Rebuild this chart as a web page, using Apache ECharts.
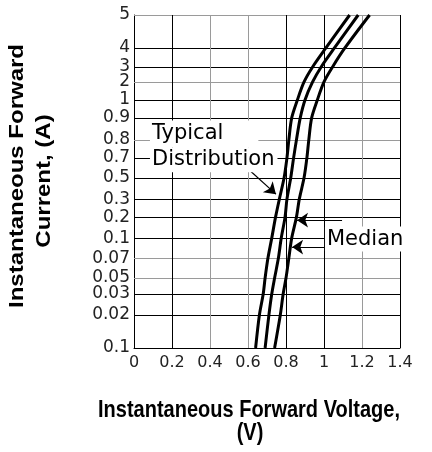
<!DOCTYPE html>
<html><head><meta charset="utf-8">
<script src="https://cdn.jsdelivr.net/npm/echarts@6/dist/echarts.min.js"></script>
<style>html,body{margin:0;padding:0;background:#fff}#c{width:432px;height:452px}</style>
</head><body><div id="c"></div>
<script>
// Current ticks (A) from bottom to top, with labels exactly as printed
const currentTicks = [0.01,0.02,0.03,0.05,0.07,0.1,0.2,0.3,0.5,0.7,0.8,0.9,1,2,3,4,5];
const currentTickLabels = ["0.1","0.02","0.03","0.05","0.07","0.1","0.2","0.3","0.5","0.7","0.8","0.9","1","2","3","4","5"];
// The chart's own (hand-drawn) vertical scale: axis position (0-100) of each current tick
const currentScale = [0,9.9,16.2,21.0,27.0,33.0,39.3,44.7,51.1,57.1,62.5,69.1,74.5,79.9,84.4,90.1,100];
const voltageTicks = [0,0.2,0.4,0.6,0.8,1,1.2,1.4];
// Forward voltage (V) of each curve at each current tick
const curveLow  = [0.64,0.66,0.68,0.69,0.705,0.725,0.745,0.765,0.79,0.805,0.815,0.83,0.86,0.895,0.94,1.01,1.135];
const curveMid  = [0.69,0.71,0.725,0.74,0.76,0.775,0.795,0.805,0.825,0.84,0.855,0.875,0.9,0.94,0.985,1.055,1.18];
const curveHigh = [0.74,0.77,0.785,0.80,0.815,0.83,0.855,0.87,0.895,0.91,0.92,0.935,0.965,1.0,1.045,1.11,1.24];

const BLACK = '#000', GRAY = '#9a9a9a';
const hLineColors = [null,BLACK,BLACK,GRAY,GRAY,BLACK,BLACK,BLACK,BLACK,BLACK,GRAY,BLACK,BLACK,GRAY,BLACK,BLACK,GRAY];
const vLineColors = [null,BLACK,GRAY,GRAY,BLACK,BLACK,GRAY,BLACK];

function pos(current){
  for(let i=0;i<currentTicks.length-1;i++){
    const a=currentTicks[i], b=currentTicks[i+1];
    if(current>=a && current<=b){
      return currentScale[i]+(currentScale[i+1]-currentScale[i])*(current-a)/(b-a);
    }
  }
  return current<currentTicks[0]?0:100;
}
function pairs(v){ return v.map((x,i)=>[x,pos(currentTicks[i])]); }

const gridLines = [];
currentTicks.forEach((c,i)=>{ if(hLineColors[i]) gridLines.push({yAxis:pos(c),lineStyle:{color:hLineColors[i],width:1,type:'solid'}}); });
voltageTicks.forEach((v,i)=>{ if(vLineColors[i]) gridLines.push({xAxis:v,lineStyle:{color:vLineColors[i],width:1,type:'solid'}}); });

const curveStyle = {type:'line',smooth:0.3,showSymbol:false,symbol:'none',lineStyle:{color:'#000',width:3},z:5,silent:true,animation:false};
const txt = {fontFamily:'DejaVu Sans',fontSize:21,color:'#000',backgroundColor:'#fff'};

const chart = echarts.init(document.getElementById('c'));
chart.setOption({
  animation:false,
  backgroundColor:'#fff',
  grid:{left:134,right:32,top:15,bottom:104},
  xAxis:{type:'value',min:0,max:1.4,interval:0.2,
    axisLine:{show:true,lineStyle:{color:'#000',width:1}},axisTick:{show:false},splitLine:{show:false},
    axisLabel:{fontFamily:'DejaVu Sans',fontSize:16,color:'#222',margin:7,showMinLabel:true,showMaxLabel:true}},
  yAxis:{type:'value',min:0,max:100,
    axisLine:{show:true,lineStyle:{color:'#000',width:1}},axisTick:{show:false},splitLine:{show:false},
    axisLabel:{customValues:currentScale,fontFamily:'DejaVu Sans',fontSize:17,color:'#222',margin:4,
      formatter:function(v){const i=currentScale.findIndex(s=>Math.abs(s-v)<1e-6);return i>=0?currentTickLabels[i]:'';}}},
  series:[
    {type:'line',data:[],silent:true,z:1,
      markLine:{silent:true,symbol:'none',label:{show:false},animation:false,data:gridLines}},
    Object.assign({name:'low',data:pairs(curveLow)},curveStyle),
    Object.assign({name:'mid',data:pairs(curveMid)},curveStyle),
    Object.assign({name:'high',data:pairs(curveHigh)},curveStyle),
    {type:'line',data:[],silent:true,z:6,
      markPoint:{silent:true,symbol:'circle',symbolSize:0,animation:false,
        data:[
          {coord:[0.084,64.3],label:Object.assign({show:true,position:'right',distance:0,formatter:'Typical',padding:[4,35,2,2]},txt)},
          {coord:[0.084,56.5],label:Object.assign({show:true,position:'right',distance:0,formatter:'Distribution',padding:[2,3,2,2]},txt)},
          {coord:[1.005,32.7],label:Object.assign({show:true,position:'right',distance:0,formatter:'Median',padding:[2,4,2,2]},txt)}
        ]}},
    {type:'line',data:[],silent:true,z:7,
      markLine:{silent:true,symbol:['none','arrow'],symbolSize:11,label:{show:false},animation:false,
        lineStyle:{color:'#000',width:1.2,type:'solid'},
        data:[
          [{coord:[0.595,54.05]},{coord:[0.747,46.2]}],
          [{coord:[1.095,38.4]},{coord:[0.858,38.4]}],
          [{coord:[1.032,30.3]},{coord:[0.832,30.3]}]
        ]}}
  ],
  graphic:[
    {type:'text',x:249,y:410,scaleY:1.2,style:{text:'Instantaneous Forward Voltage,',fontFamily:'Liberation Sans',fontWeight:'bold',fontSize:20,fill:'#000',align:'center',verticalAlign:'middle'}},
    {type:'text',x:250,y:433,scaleY:1.2,style:{text:'(V)',fontFamily:'Liberation Sans',fontWeight:'bold',fontSize:20,fill:'#000',align:'center',verticalAlign:'middle'}},
    {type:'text',x:17,y:176,rotation:Math.PI/2,scaleX:1.2,style:{text:'Instantaneous Forward',fontFamily:'Liberation Sans',fontWeight:'bold',fontSize:20,fill:'#000',align:'center',verticalAlign:'middle'}},
    {type:'text',x:44,y:181,rotation:Math.PI/2,scaleX:1.2,style:{text:'Current, (A)',fontFamily:'Liberation Sans',fontWeight:'bold',fontSize:20,fill:'#000',align:'center',verticalAlign:'middle'}}
  ]
});
</script></body></html>
